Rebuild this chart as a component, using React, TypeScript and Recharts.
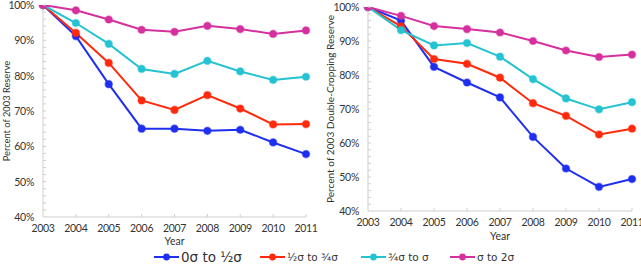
import React from "react";
import { LineChart, Line, XAxis, YAxis, Label } from "recharts";

const years = ["2003", "2004", "2005", "2006", "2007", "2008", "2009", "2010", "2011"];

const seriesNames = ["0σ to ½σ", "½σ to ¾σ", "¾σ to σ", "σ to 2σ"];
const seriesColors = ["#1f2ff0", "#ff2a0c", "#25c3d2", "#d6309f"];

// Left panel: Percent of 2003 Reserve
const leftS0 = [100, 91.2, 77.6, 65.0, 65.0, 64.4, 64.7, 61.1, 57.8];
const leftS1 = [100, 92.1, 83.6, 73.0, 70.3, 74.5, 70.7, 66.2, 66.3];
const leftS2 = [100, 94.9, 89.0, 81.9, 80.5, 84.2, 81.2, 78.8, 79.7];
const leftS3 = [100, 98.5, 95.9, 93.0, 92.4, 94.1, 93.2, 91.8, 92.8];

// Right panel: Percent of 2003 Double-Cropping Reserve
const rightS0 = [100, 96.0, 82.4, 77.8, 73.4, 61.8, 52.5, 47.1, 49.4];
const rightS1 = [100, 94.3, 84.7, 83.3, 79.2, 71.7, 68.0, 62.5, 64.2];
const rightS2 = [100, 93.2, 88.7, 89.4, 85.4, 78.8, 73.1, 69.9, 72.0];
const rightS3 = [100, 97.4, 94.4, 93.5, 92.5, 90.0, 87.2, 85.3, 86.0];

const yTicks = [40, 42, 44, 46, 48, 50, 52, 54, 56, 58, 60, 62, 64, 66, 68, 70, 72, 74, 76, 78, 80, 82, 84, 86, 88, 90, 92, 94, 96, 98, 100];

const FONT = "Lato, 'Noto Sans', sans-serif";
const LEGEND_FONT = "'DejaVu Sans', Lato, sans-serif";
const AXIS_COLOR = "#cfcfcf";
const TEXT_COLOR = "#333";

function build(s0: number[], s1: number[], s2: number[], s3: number[]) {
  return years.map((y, i) => ({ year: y, s0: s0[i], s1: s1[i], s2: s2[i], s3: s3[i] }));
}

const leftData = build(leftS0, leftS1, leftS2, leftS3);
const rightData = build(rightS0, rightS1, rightS2, rightS3);

const YTick = (props: any) => {
  const { x, y, payload } = props;
  const v = payload.value;
  const major = v % 10 === 0;
  return (
    <g>
      {v !== 40 && <line x1={x} x2={x + 3} y1={y} y2={y} stroke={AXIS_COLOR} strokeWidth={1} />}
      {major && (
        <text x={x - 9} y={y} dy={4} textAnchor="end" fontSize={10.5} letterSpacing={-0.3} fontFamily={FONT} fill={TEXT_COLOR}>
          {v}%
        </text>
      )}
    </g>
  );
};

const makeXTick = (dy: number) => (props: any) => {
  const { x, y, payload } = props;
  return (
    <g>
      {payload.value !== "2003" && <line x1={x} x2={x} y1={y} y2={y - 3} stroke={AXIS_COLOR} strokeWidth={1} />}
      <text x={x} y={y} dy={dy} textAnchor="middle" fontSize={10.5} letterSpacing={-0.3} fontFamily={FONT} fill={TEXT_COLOR}>
        {payload.value}
      </text>
    </g>
  );
};

type PanelProps = {
  data: any[];
  left: number;
  width: number;
  top: number;
  right: number;
  bottom: number;
  yLabel: string;
  yLabelSize: number;
  yAxisW: number;
  yLabelX: number;
  xTickDy: number;
  yearDy: number;
};

const Panel = ({ data, left, width, top, right, bottom, yLabel, yLabelSize, yAxisW, yLabelX, xTickDy, yearDy }: PanelProps) => {
  const height = 264;
  return (
    <div style={{ position: "absolute", left, top: 0 }}>
      <LineChart width={width} height={height} data={data} margin={{ top, right, bottom: bottom - 20, left: 0 }}>
        <XAxis
          dataKey="year"
          stroke={AXIS_COLOR}
          axisLine={{ stroke: AXIS_COLOR, strokeWidth: 1 }}
          tickLine={false}
          tickSize={0}
          tickMargin={0}
          height={20}
          interval={0}
          padding={{ left: 0, right: 0 }}
          tick={makeXTick(xTickDy)}
        >
          <Label
            content={(p: any) => {
              const vb = p.viewBox;
              return (
                <text x={vb.x + vb.width / 2} y={vb.y + yearDy} textAnchor="middle" fontSize={10.5} fontFamily={FONT} fill={TEXT_COLOR}>
                  Year
                </text>
              );
            }}
          />
        </XAxis>
        <YAxis
          domain={[40, 100]}
          ticks={yTicks}
          interval={0}
          stroke={AXIS_COLOR}
          axisLine={{ stroke: AXIS_COLOR, strokeWidth: 1 }}
          tickLine={false}
          tickSize={0}
          tickMargin={0}
          width={yAxisW}
          tick={YTick}
          allowDataOverflow
        >
          <Label
            content={(p: any) => {
              const vb = p.viewBox;
              const cy = vb.y + vb.height / 2;
              const cx = yLabelX;
              return (
                <text
                  x={cx}
                  y={cy}
                  transform={`rotate(-90 ${cx} ${cy})`}
                  textAnchor="middle"
                  dy={4}
                  fontSize={yLabelSize}
                  fontFamily={FONT}
                  fill={TEXT_COLOR}
                >
                  {yLabel}
                </text>
              );
            }}
          />
        </YAxis>
        {["s0", "s1", "s2", "s3"].map((k, i) => (
          <Line
            key={k}
            type="linear"
            dataKey={k}
            stroke={seriesColors[i]}
            strokeWidth={2}
            dot={{ r: 3.6, fill: seriesColors[i], stroke: seriesColors[i], strokeOpacity: 0.45, strokeWidth: 1.5 }}
            isAnimationActive={false}
          />
        ))}
      </LineChart>
    </div>
  );
};

const legendItems = [
  { x: 154, fontSize: 13.5 },
  { x: 260, fontSize: 10.5 },
  { x: 361, fontSize: 10.5 },
  { x: 450, fontSize: 10.5 },
];

const Legend = () => (
  <svg width={641} height={264} style={{ position: "absolute", left: 0, top: 0, pointerEvents: "none" }}>
    {seriesNames.map((name, i) => {
      const it = legendItems[i];
      const y = 257;
      return (
        <g key={name}>
          <line x1={it.x} x2={it.x + 25} y1={y} y2={y} stroke={seriesColors[i]} strokeWidth={2} />
          <circle cx={it.x + 12.5} cy={y} r={3.4} fill={seriesColors[i]} />
          <text x={it.x + 27} y={y} dy={it.fontSize * 0.36} fontSize={it.fontSize} fontFamily={LEGEND_FONT} fill={TEXT_COLOR}>
            {name}
          </text>
        </g>
      );
    })}
  </svg>
);

export default function App() {
  return (
    <div style={{ position: "absolute", left: 0, top: 0, width: 641, height: 264, background: "#fff", overflow: "hidden" }}>
      <Panel
        data={leftData}
        left={0}
        width={320}
        top={5}
        right={14}
        bottom={47}
        yLabel="Percent of 2003 Reserve"
        yLabelSize={9.3}
        yAxisW={43}
        yLabelX={6}
        xTickDy={15}
        yearDy={28}
      />
      <Panel
        data={rightData}
        left={320}
        width={321}
        top={7}
        right={9}
        bottom={53}
        yLabel="Percent of 2003 Double-Cropping Reserve"
        yLabelSize={10.1}
        yAxisW={48}
        yLabelX={10}
        xTickDy={15}
        yearDy={29}
      />
      <Legend />
    </div>
  );
}
